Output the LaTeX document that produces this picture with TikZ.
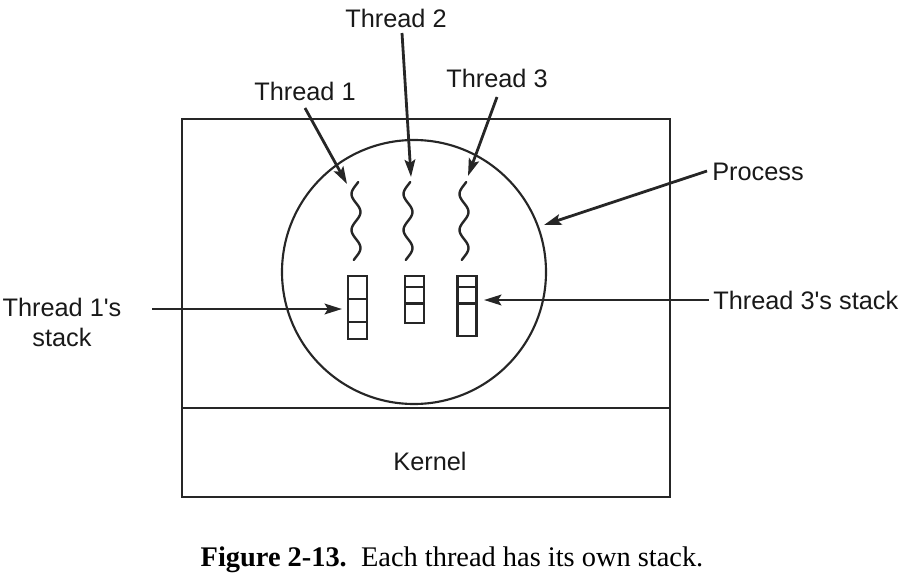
\documentclass[tikz,border=0pt]{standalone}
\usepackage{fontspec}
\setmainfont{Liberation Serif}
\newfontfamily\labelfont{Liberation Sans}
\usetikzlibrary{arrows.meta}
\begin{document}
\begin{tikzpicture}[x=0.75pt,y=-0.75pt,
  lbl/.style={font=\labelfont\fontsize{19}{22.5}\selectfont, inner sep=0pt, text=black!90},
  frame/.style={draw=black!85, line width=1.6pt},
  stackbox/.style={draw=black!85, line width=1.9pt},
  wave/.style={draw=black!85, line width=1.8pt, line cap=round},
  arr/.style={draw=black!85, line width=2.1pt, -{Stealth[length=13pt,width=8pt,inset=2.5pt]}}]
\useasboundingbox (0,0) rectangle (899,578);
% process and kernel
\draw[frame] (182,119) rectangle (670,497);
\draw[frame] (182,408) -- (670,408);
\draw[frame] (414,272) circle[radius=99pt];
% threads (wavy)
\foreach \cx/\nm in {356/w1,408/w2,464/w3}{
  \draw[wave] plot[smooth, domain=182:260, samples=40, variable=\t] ({\cx-4.5*sin(10*(\t-185))},\t);
  \coordinate (\nm) at (\cx,182);
}
% stacks
\draw[stackbox] (348,276) rectangle (367,339);
\draw[stackbox] (348,299) -- (367,299) (348,322) -- (367,322);
\draw[stackbox] (405,276) rectangle (424,323);
\draw[stackbox] (405,287) -- (424,287) (405,303.5) -- (424,303.5);
\draw[stackbox] (457.5,276) rectangle (476.5,336);
\draw[stackbox] (457.5,287) -- (476.5,287) (457.5,303.5) -- (476.5,303.5);
% labels
\node[lbl] (t1) at (305,91) {Thread 1};
\node[lbl] (t2) at (396,18) {Thread 2};
\node[lbl] (t3) at (497,78) {Thread 3};
\node[lbl, anchor=west] (proc) at (712,172) {Process};
\node[lbl, anchor=west] (s3) at (713,300) {Thread 3's stack};
\node[lbl, align=center] (s1) at (62,322) {Thread 1's\\stack};
\node[lbl] (kern) at (430,461) {Kernel};
\node[inner sep=0pt, font=\fontsize{21.3}{25}\selectfont] (cap) at (452,560) {\textbf{Figure 2-13.}\ \ Each thread has its own stack.};
% arrow endpoints
\coordinate (a1s) at (305,108);
\coordinate (a1e) at (347,184);
\coordinate (a2s) at (402,33);
\coordinate (a2e) at (411,177);
\coordinate (a3s) at (497,97);
\coordinate (a3e) at (468,176);
\coordinate (aps) at (707,171);
\coordinate (ape) at (544,225);
\coordinate (as1s) at (152,309);
\coordinate (as1e) at (342,309);
\coordinate (as3s) at (709,300);
\coordinate (as3e) at (484,300);
\draw[arr] (a1s) -- (a1e);
\draw[arr] (a2s) -- (a2e);
\draw[arr] (a3s) -- (a3e);
\draw[arr] (aps) -- (ape);
\draw[arr] (as1s) -- (as1e);
\draw[arr] (as3s) -- (as3e);
\end{tikzpicture}
\end{document}
